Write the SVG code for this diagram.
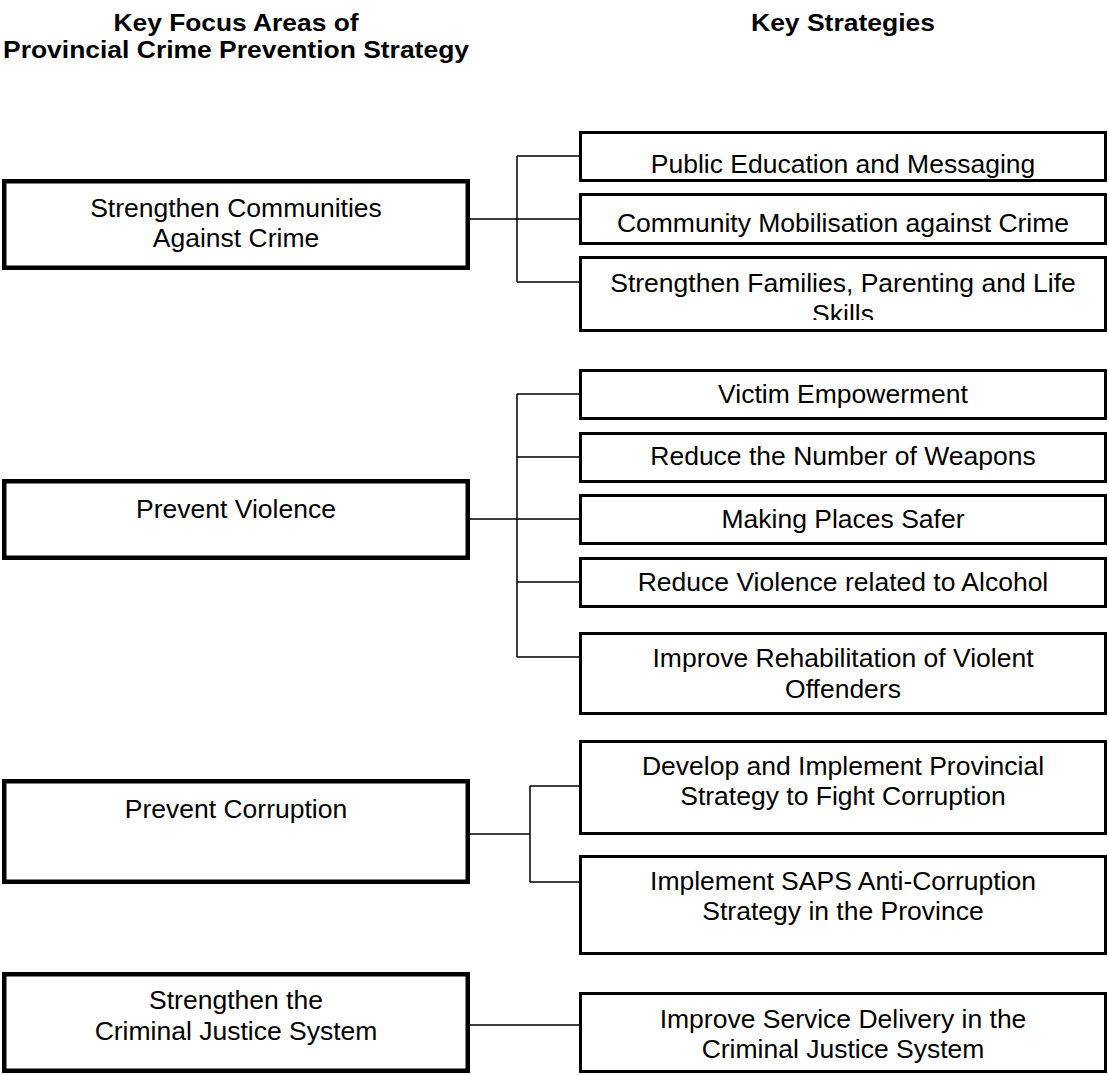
<svg xmlns="http://www.w3.org/2000/svg" width="1109" height="1075" viewBox="0 0 1109 1075">
<style>
  text { font-family: "Liberation Sans", Arial, sans-serif; font-size: 26.5px; fill: #000; text-anchor: middle; }
  .hdr { font-weight: bold; font-size: 24px; }
  .focus { fill: #fff; stroke: #000; stroke-width: 4.5; }
  .strat { fill: #fff; stroke: #000; stroke-width: 3; }
  .conn { fill: none; stroke: #000; stroke-width: 1.5; }
</style>
<defs>
  <clipPath id="clip3"><rect x="582" y="259" width="522" height="61"/></clipPath>
</defs>
<rect width="1109" height="1075" fill="#fff"/>

<g id="headers">
  <text class="hdr" x="236" y="31" textLength="245" lengthAdjust="spacingAndGlyphs">Key Focus Areas of</text>
  <text class="hdr" x="236" y="58" textLength="466" lengthAdjust="spacingAndGlyphs">Provincial Crime Prevention Strategy</text>
  <text class="hdr" x="843" y="31" textLength="184" lengthAdjust="spacingAndGlyphs">Key Strategies</text>
</g>

<g id="connectors">
  <path class="conn" d="M470 219 H517 M517 156 V282 M517 156 H579 M517 219 H579 M517 282 H579"/>
  <path class="conn" d="M470 519 H517 M517 394 V657 M517 394 H579 M517 457 H579 M517 519 H579 M517 582 H579 M517 657 H579"/>
  <path class="conn" d="M470 834 H530 M530 786 V882 M530 786 H579 M530 882 H579"/>
  <path class="conn" d="M470 1025 H579"/>
</g>

<g id="focus1">
  <rect class="focus" x="4.25" y="181.25" width="463.5" height="86.5"/>
  <text x="236" y="217">Strengthen Communities</text>
  <text x="236" y="247">Against Crime</text>
</g>
<g id="focus2">
  <rect class="focus" x="4.25" y="481.25" width="463.5" height="76.5"/>
  <text x="236" y="518">Prevent Violence</text>
</g>
<g id="focus3">
  <rect class="focus" x="4.25" y="781.25" width="463.5" height="100.5"/>
  <text x="236" y="818">Prevent Corruption</text>
</g>
<g id="focus4">
  <rect class="focus" x="4.25" y="974.25" width="463.5" height="96.5"/>
  <text x="236" y="1009">Strengthen the</text>
  <text x="236" y="1040">Criminal Justice System</text>
</g>

<g id="strategy1">
  <rect class="strat" x="580.5" y="132.5" width="525" height="48"/>
  <text x="843" y="173">Public Education and Messaging</text>
</g>
<g id="strategy2">
  <rect class="strat" x="580.5" y="194.5" width="525" height="49"/>
  <text x="843" y="232">Community Mobilisation against Crime</text>
</g>
<g id="strategy3">
  <rect class="strat" x="580.5" y="257.5" width="525" height="73"/>
  <g clip-path="url(#clip3)">
    <text x="843" y="292">Strengthen Families, Parenting and Life</text>
    <text x="843" y="323">Skills</text>
  </g>
</g>
<g id="strategy4">
  <rect class="strat" x="580.5" y="370.5" width="525" height="48"/>
  <text x="843" y="403">Victim Empowerment</text>
</g>
<g id="strategy5">
  <rect class="strat" x="580.5" y="433.5" width="525" height="48"/>
  <text x="843" y="465">Reduce the Number of Weapons</text>
</g>
<g id="strategy6">
  <rect class="strat" x="580.5" y="495.5" width="525" height="48"/>
  <text x="843" y="528">Making Places Safer</text>
</g>
<g id="strategy7">
  <rect class="strat" x="580.5" y="558.5" width="525" height="48"/>
  <text x="843" y="591">Reduce Violence related to Alcohol</text>
</g>
<g id="strategy8">
  <rect class="strat" x="580.5" y="633.5" width="525" height="80"/>
  <text x="843" y="667">Improve Rehabilitation of Violent</text>
  <text x="843" y="698">Offenders</text>
</g>
<g id="strategy9">
  <rect class="strat" x="580.5" y="741.5" width="525" height="92"/>
  <text x="843" y="775">Develop and Implement Provincial</text>
  <text x="843" y="805">Strategy to Fight Corruption</text>
</g>
<g id="strategy10">
  <rect class="strat" x="580.5" y="856.5" width="525" height="97"/>
  <text x="843" y="890">Implement SAPS Anti-Corruption</text>
  <text x="843" y="920">Strategy in the Province</text>
</g>
<g id="strategy11">
  <rect class="strat" x="580.5" y="993.5" width="525" height="78"/>
  <text x="843" y="1028">Improve Service Delivery in the</text>
  <text x="843" y="1058">Criminal Justice System</text>
</g>
</svg>
